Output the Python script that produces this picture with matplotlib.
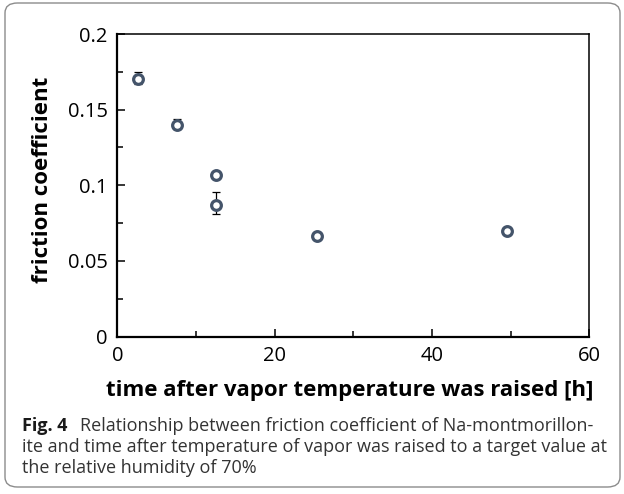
import matplotlib
matplotlib.use("Agg")
import matplotlib.pyplot as plt
from matplotlib.patches import FancyBboxPatch
from matplotlib.ticker import MultipleLocator

# data
time_h = [2.6, 7.6, 12.6, 12.6, 25.4, 49.5]
friction = [0.170, 0.140, 0.107, 0.087, 0.0665, 0.0695]
err_low = [0.003, 0.003, 0.002, 0.0062, 0.002, 0.002]
err_high = [0.005, 0.0038, 0.002, 0.0088, 0.002, 0.002]

xlabel = "time after vapor temperature was raised [h]"
ylabel = "friction coefficient"
caption_lines = [
    "Relationship between friction coefficient of Na-montmorillon-",
    "ite and time after temperature of vapor was raised to a target value at",
    "the relative humidity of 70%",
]

plt.rcParams["font.family"] = ["Open Sans", "DejaVu Sans"]

W, H = 624, 494
fig = plt.figure(figsize=(W / 100, H / 100), dpi=100)

# rounded frame around the whole figure
frame = FancyBboxPatch((5 / W, 7 / H), 615 / W, 484 / H,
                       boxstyle="round,pad=0,rounding_size=0.02",
                       transform=fig.transFigure, fill=False,
                       edgecolor="#8c8c8c", linewidth=1.0)
fig.patches.append(frame)

ax = fig.add_axes([117.3 / W, 1 - 336.5 / H, 472 / W, 302.5 / H])

ax.errorbar(time_h, friction, yerr=[err_low, err_high], fmt="none",
            ecolor="black", elinewidth=0.9, capsize=3, capthick=0.9, zorder=2)
ax.plot(time_h, friction, linestyle="none", marker="o", markersize=7.0,
        markerfacecolor="white", markeredgecolor="#44546a",
        markeredgewidth=2.3, zorder=3)

ax.set_xlim(0, 60)
ax.set_ylim(0, 0.2)
ax.xaxis.set_major_locator(MultipleLocator(20))
ax.xaxis.set_minor_locator(MultipleLocator(10))
ax.yaxis.set_major_locator(MultipleLocator(0.05))
ax.yaxis.set_minor_locator(MultipleLocator(0.025))
ax.set_yticks([0, 0.05, 0.1, 0.15, 0.2])
ax.set_yticklabels(["0", "0.05", "0.1", "0.15", "0.2"])

ax.tick_params(which="both", direction="in", top=False, right=False,
               labelsize=14.5, width=1.1, pad=7)
ax.tick_params(which="major", length=5.8)
ax.tick_params(which="minor", length=4.3)
for side in ["left", "bottom"]:
    ax.spines[side].set_linewidth(1.6)
for side in ["top", "right"]:
    ax.spines[side].set_linewidth(1.1)

fig.text(350 / W, 1 - 390 / H, xlabel, ha="center", va="center",
         fontsize=16, fontweight="bold")
fig.text(43 / W, 1 - 180 / H, ylabel, ha="center", va="center",
         rotation=90, fontsize=16, fontweight="bold")

# caption
figlab = fig.text(22 / W, 1 - 426 / H, "Fig. 4", ha="left", va="center",
                  fontsize=13, fontweight="bold", color="#1a1a1a")
ax.annotate(caption_lines[0], xy=(1, 0.5), xycoords=figlab,
            xytext=(9, 0), textcoords="offset points", ha="left",
            va="center", fontsize=13, color="#333333")
fig.text(22 / W, 1 - 447 / H, caption_lines[1], ha="left", va="center",
         fontsize=13, color="#333333")
fig.text(22 / W, 1 - 468 / H, caption_lines[2], ha="left", va="center",
         fontsize=13, color="#333333")

fig.savefig("out.png", dpi=100)
